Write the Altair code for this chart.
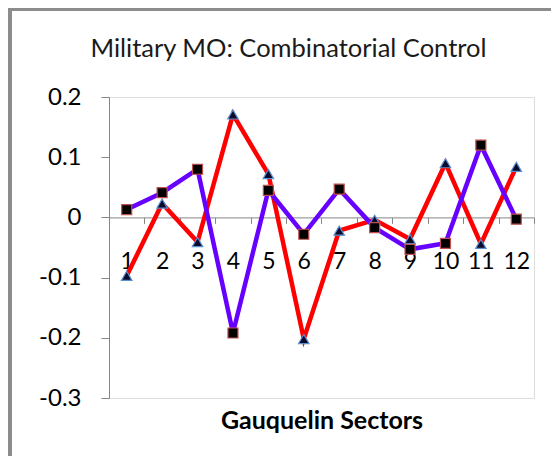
import altair as alt
import pandas as pd

# ---- data ----
sectors = [1, 2, 3, 4, 5, 6, 7, 8, 9, 10, 11, 12]
# red line, triangle markers
series_a = [-0.097, 0.023, -0.041, 0.171, 0.072, -0.202, -0.022, -0.004, -0.036, 0.090, -0.044, 0.084]
# purple line, square markers
series_b = [0.013, 0.041, 0.080, -0.192, 0.045, -0.028, 0.047, -0.017, -0.053, -0.043, 0.120, -0.003]
y_ticks = [-0.3, -0.2, -0.1, 0.0, 0.1, 0.2]

title_text = "Military MO: Combinatorial Control"
x_title = "Gauquelin Sectors"

rows = []
for s, a, b in zip(sectors, series_a, series_b):
    rows.append({"sector": s, "value": a, "series": "A"})
    rows.append({"sector": s, "value": b, "series": "B"})
df = pd.DataFrame(rows)

W, H = 425, 301
zero_offset = -H * 0.3 / 0.5
FONT = "Lato"
GRAY = "#868686"

x_enc = alt.X(
    "sector:O",
    bandPosition=0.5,
    scale=alt.Scale(type="band", paddingInner=0, paddingOuter=0),
    axis=alt.Axis(
        orient="bottom",
        offset=zero_offset,
        labelAngle=0,
        tickBand="extent",
        tickSize=6,
        tickColor=GRAY,
        domainColor=GRAY,
        labelFont=FONT,
        labelFontSize=23,
        labelColor="#000000",
        labelPadding=27,
        title=x_title,
        titleFont=FONT,
        titleFontSize=25,
        titleFontWeight="bold",
        titleColor="#000000",
        titleX=W / 2,
        titleY=203,
        titleAlign="center",
        titleBaseline="middle",
        grid=False,
    ),
)
y_enc = alt.Y(
    "value:Q",
    scale=alt.Scale(domain=[-0.3, 0.2], nice=False, zero=False),
    axis=alt.Axis(
        values=y_ticks,
        labelExpr="datum.value == 0 ? '0' : (datum.value < 0 ? '-' : '') + format(abs(datum.value), '.1f')",
        tickSize=8,
        tickColor=GRAY,
        domainColor=GRAY,
        labelFont=FONT,
        labelFontSize=24,
        labelColor="#000000",
        labelPadding=20,
        title=None,
        grid=False,
    ),
)

color_scale = alt.Scale(domain=["A", "B"], range=["#FF0000", "#6600FF"])

base = alt.Chart(df)
lines = base.mark_line(strokeWidth=4.5).encode(
    x=x_enc, y=y_enc, color=alt.Color("series:N", scale=color_scale, legend=None),
    detail="series:N",
)
tri = base.transform_filter(alt.datum.series == "A").mark_point(
    shape="triangle-up", filled=True, size=110, fill="#0a0a2a", stroke="#5b8fd0",
    strokeWidth=1.2, opacity=1,
).encode(x=x_enc, y=y_enc)
sq = base.transform_filter(alt.datum.series == "B").mark_point(
    shape="square", filled=True, size=100, fill="#000000", stroke="#c0504d",
    strokeWidth=1.2, opacity=1,
).encode(x=x_enc, y=y_enc)

deco = pd.DataFrame({"k": [0]})
left_border = alt.Chart(deco).mark_rule(color="#8c8c8c", strokeWidth=4).encode(
    x=alt.value(-99), y=alt.value(-89), y2=alt.value(360)
)
top_border = alt.Chart(deco).mark_rule(color="#8c8c8c", strokeWidth=3).encode(
    x=alt.value(-101), x2=alt.value(442), y=alt.value(-87.5)
)

chart = alt.layer(left_border, top_border, lines, tri, sq).properties(
    width=W,
    height=H,
    title=alt.TitleParams(
        text=title_text, font=FONT, fontSize=25.5, fontWeight="normal",
        color="#1a1a1a", anchor="middle", frame="group", dx=-33, offset=-68,
        baseline="middle",
    ),
    autosize=alt.AutoSizeParams(type="none"),
    padding={"left": 101, "top": 89, "right": 17, "bottom": 58},
).configure_view(stroke=None).configure(background="white")

chart.save("out.html", embed_options={"renderer": "svg", "actions": False})
